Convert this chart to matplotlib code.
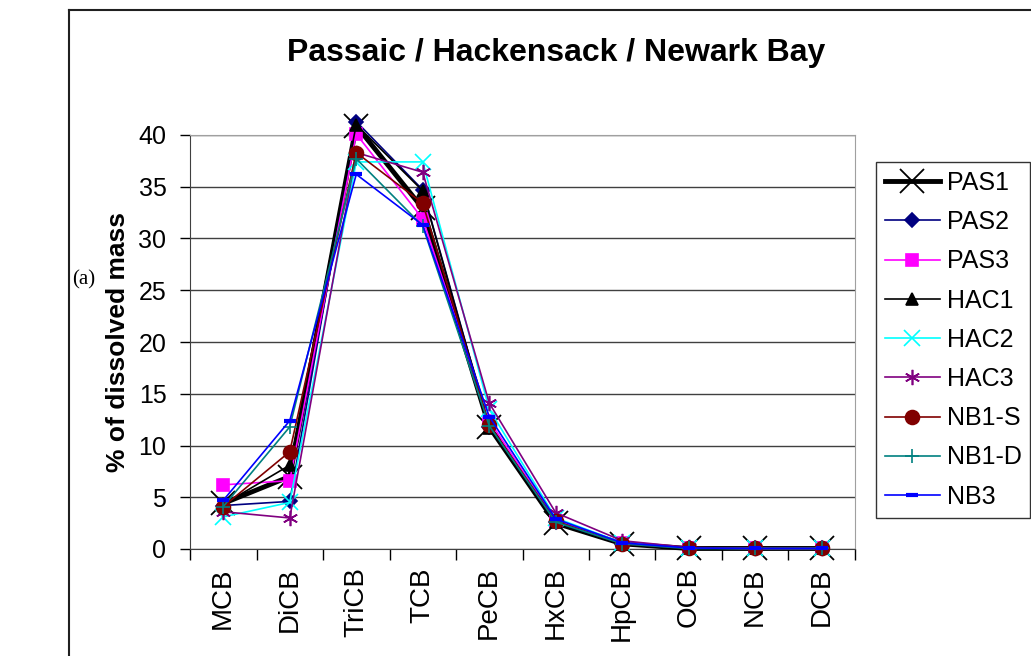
import matplotlib
matplotlib.use("Agg")
import matplotlib.pyplot as plt
from matplotlib.lines import Line2D

# Data (% of dissolved mass per homolog group)
categories = ['MCB', 'DiCB', 'TriCB', 'TCB', 'PeCB', 'HxCB', 'HpCB', 'OCB', 'NCB', 'DCB']

pas1 = [4.4, 7.0, 40.9, 32.9, 11.8, 2.5, 0.5, 0.05, 0.05, 0.05]
pas2 = [4.2, 4.6, 41.3, 34.7, 11.8, 2.6, 0.5, 0.05, 0.05, 0.05]
pas3 = [6.2, 6.6, 40.1, 31.9, 12.4, 2.7, 0.6, 0.1, 0.05, 0.05]
hac1 = [4.3, 8.1, 41.0, 34.6, 11.7, 2.6, 0.5, 0.05, 0.05, 0.05]
hac2 = [3.1, 4.5, 37.4, 37.4, 13.5, 3.0, 0.6, 0.1, 0.05, 0.05]
hac3 = [3.6, 3.0, 38.3, 36.4, 14.1, 3.5, 0.8, 0.15, 0.05, 0.05]
nb1s = [4.1, 9.4, 38.3, 33.4, 12.0, 2.7, 0.5, 0.1, 0.05, 0.05]
nb1d = [4.1, 11.8, 37.7, 31.2, 11.9, 2.6, 0.5, 0.05, 0.05, 0.05]
nb3  = [4.7, 12.4, 36.2, 31.3, 12.8, 2.9, 0.6, 0.1, 0.05, 0.05]

plt.rcParams['font.family'] = ['Liberation Sans', 'DejaVu Sans']

fig = plt.figure(figsize=(10.31, 6.56), dpi=100)
ax = fig.add_axes([190 / 1031, 1 - 549 / 656, 665 / 1031, 414 / 656])

x = list(range(len(categories)))

# (series, label, color, marker, markersize, linewidth)
series = [
    (pas1, 'PAS1', 'black',   'x',       17, 3.5),
    (pas2, 'PAS2', '#000080', 'D',        7, 1.2),
    (pas3, 'PAS3', '#FF00FF', 's',        9, 1.2),
    (hac1, 'HAC1', 'black',   '^',        8, 1.2),
    (hac2, 'HAC2', '#00FFFF', 'x',       11, 1.2),
    (hac3, 'HAC3', '#800080', (6, 2, 0), 11, 1.2),
    (nb1s, 'NB1-S', '#800000', 'o',       10, 1.2),
    (nb1d, 'NB1-D', '#008080', '+',       10, 1.2),
    (nb3,  'NB3',  '#0000FF', '_',        8, 1.2),
]

for vals, label, col, mk, ms, lw in series:
    mew = 1.2
    if label == 'PAS1':
        mew = 1.3
    if label == 'NB3':
        mew = 3
    ax.plot(x, vals, color=col, marker=mk, markersize=ms, linewidth=lw,
            markeredgewidth=mew, markerfacecolor=col, markeredgecolor=col,
            label=label, clip_on=False, zorder=3)

ax.set_xlim(-0.5, len(categories) - 0.5)
ax.set_ylim(0, 40)
ax.set_yticks(range(0, 41, 5))
ax.yaxis.grid(True, color='#404040', linewidth=1)
ax.set_axisbelow(True)

# Excel style category axis: ticks between categories, labels rotated
ax.set_xticks(x)
ax.set_xticklabels(categories, rotation=90, fontsize=20)
ax.set_xticks([i - 0.5 for i in range(len(categories) + 1)], minor=True)
ax.tick_params(axis='x', which='major', length=0, pad=13)
ax.tick_params(axis='x', which='minor', length=8, width=1, direction='out')
ax.tick_params(axis='y', labelsize=18, length=7, width=1, direction='out', pad=10)

for s in ['top', 'right']:
    ax.spines[s].set_color('#a0a0a0')
ax.spines['left'].set_color('#404040')
ax.spines['bottom'].set_color('#404040')

ax.set_ylabel('% of dissolved mass', fontsize=19, fontweight='bold', labelpad=6)

fig.text(556 / 1031, 1 - 53 / 656, 'Passaic / Hackensack / Newark Bay',
         ha='center', va='center', fontsize=23, fontweight='bold')

fig.text(84 / 1031, 1 - 280 / 656, '(a)', ha='center', va='center',
         fontsize=15, family='Liberation Serif')

leg = fig.legend(loc='upper left', bbox_to_anchor=(876 / 1031, 1 - 162 / 656),
                 fontsize=18, frameon=True, fancybox=False, edgecolor='black',
                 handlelength=2.2, labelspacing=0.61, borderpad=0.35,
                 handletextpad=0.28, borderaxespad=0)
leg.get_frame().set_linewidth(1)

# outer frame (left and top edges only are in view)
fig.add_artist(Line2D([69 / 1031, 69 / 1031], [0, 1 - 10 / 656], color='#202020', lw=1.5))
fig.add_artist(Line2D([69 / 1031, 1], [1 - 10 / 656, 1 - 10 / 656], color='#202020', lw=1.5))

plt.savefig('out.png', dpi=100)
